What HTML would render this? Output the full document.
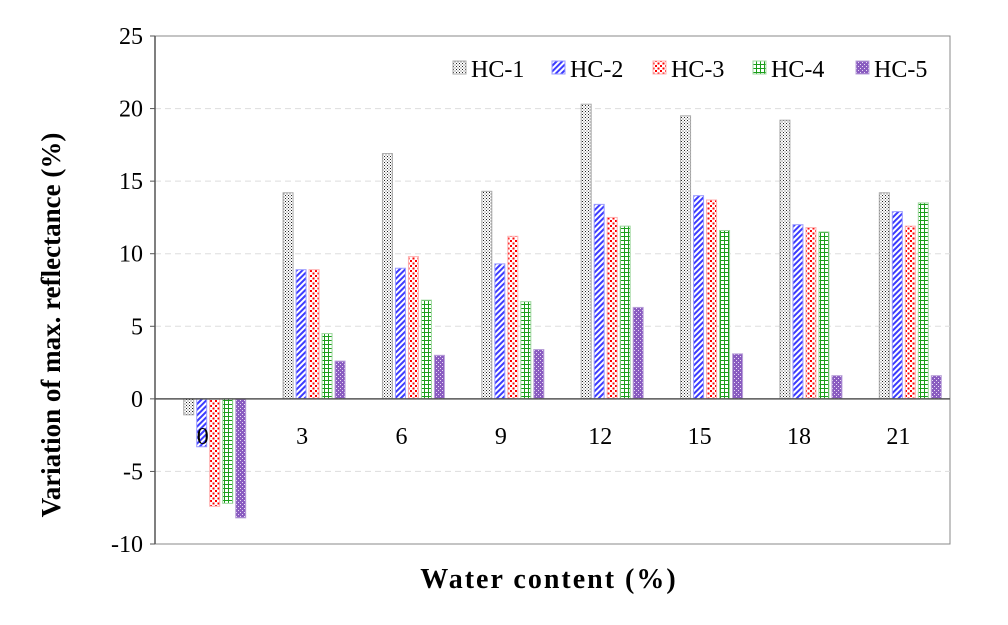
<!DOCTYPE html>
<html><head><meta charset="utf-8"><style>
body{margin:0;background:#fff;}
svg text{font-family:"Liberation Serif",serif;}
</style></head><body>
<svg id="chart" width="1008" height="620">
<defs>
<pattern id="p1" width="3" height="3" patternUnits="userSpaceOnUse"><rect width="3" height="3" fill="#fff"/><rect x="0" y="0" width="1" height="1" fill="#222"/><rect x="1.5" y="1.5" width="1" height="1" fill="#555"/></pattern>
<pattern id="p2" width="4" height="4" patternUnits="userSpaceOnUse" patternTransform="rotate(45)"><rect width="4" height="4" fill="#fff"/><rect width="2" height="4" fill="#3b3bff"/></pattern>
<pattern id="p3" width="5" height="5" patternUnits="userSpaceOnUse"><rect width="5" height="5" fill="#fff"/><rect x="0" y="0" width="2" height="2" fill="#f00"/><rect x="2.5" y="2.5" width="2" height="2" fill="#f00"/></pattern>
<pattern id="p4" width="4" height="4" patternUnits="userSpaceOnUse"><rect width="4" height="4" fill="#fff"/><rect width="1" height="4" fill="#1a9e1a"/><rect width="4" height="1" fill="#1a9e1a"/></pattern>
<pattern id="p5" width="4" height="4" patternUnits="userSpaceOnUse"><rect width="4" height="4" fill="#8a5cc0"/><rect x="0" y="0" width="1" height="1" fill="#e8dcf5"/><rect x="2" y="2" width="1" height="1" fill="#e8dcf5"/></pattern>
</defs>
<g id="plot"></g>
</svg>
<script>
const categories=["0","3","6","9","12","15","18","21"];
const seriesNames=["HC-1","HC-2","HC-3","HC-4","HC-5"];
const hc1=[-1.1,14.2,16.9,14.3,20.3,19.5,19.2,14.2];
const hc2=[-3.3,8.9,9.0,9.3,13.4,14.0,12.0,12.9];
const hc3=[-7.4,8.9,9.8,11.2,12.5,13.7,11.8,11.9];
const hc4=[-7.2,4.5,6.8,6.7,11.9,11.6,11.5,13.5];
const hc5=[-8.2,2.6,3.0,3.4,6.3,3.1,1.6,1.6];
const yTicks=[-10,-5,0,5,10,15,20,25];
const series=[hc1,hc2,hc3,hc4,hc5];
const fills=["url(#p1)","url(#p2)","url(#p3)","url(#p4)","url(#p5)"];
const strokes=["#aaa","#9a9aff","#ffb0b0","#9fd89f","#b9a0d8"];
const NS="http://www.w3.org/2000/svg";
const L=155,R=950,T=36,B=544,yMin=-10,yMax=25;
const y=v=>T+(yMax-v)/(yMax-yMin)*(B-T);
const band=(R-L)/categories.length;
const xc=i=>L+band*(i+0.5);
const g=document.getElementById('plot');
function mk(tag,a){const e=document.createElementNS(NS,tag);for(const k in a)e.setAttribute(k,a[k]);g.appendChild(e);return e;}
let e=mk('rect',{x:L,y:T,width:R-L,height:B-T,fill:'none',stroke:'#888','stroke-width':1});


yTicks.forEach(t=>{
  if(t!==0&&t!==yMin&&t!==yMax){const l=mk('line',{x1:L,x2:R,y1:y(t),y2:y(t),stroke:'#ddd','stroke-dasharray':'6,4'});
  
  }
  const tx=mk('text',{x:L-12,y:y(t)+8,'text-anchor':'end','font-size':24});tx.textContent=t;
  
  
  const tk=mk('line',{x1:L-5,x2:L,y1:y(t),y2:y(t),stroke:'#555'});
  
  
});
e=mk('line',{x1:L,x2:L,y1:T,y2:B,stroke:'#555','stroke-width':1.5});


const bw=10,gap=13;
series.forEach((s,si)=>{
  s.forEach((v,i)=>{
    const x=xc(i)+10+(si-2)*gap-bw/2;
    const r=mk('rect',{x:x,y:Math.min(y(v),y(0)),width:bw,height:Math.abs(y(v)-y(0)),fill:fills[si],stroke:strokes[si],'stroke-width':1});
    
    
  });
});
e=mk('line',{x1:L,x2:R,y1:y(0),y2:y(0),stroke:'#555','stroke-width':1.5});


categories.forEach((c,i)=>{
  const t=mk('text',{x:xc(i)-2,y:y(0)+45,'text-anchor':'middle','font-size':24});t.textContent=c;
  
  
});
const lx=[453,552,653,753,856];
seriesNames.forEach((n,si)=>{
  const r=mk('rect',{x:lx[si],y:61,width:13,height:13,fill:fills[si],stroke:strokes[si]});
  
  
  const t=mk('text',{x:lx[si]+18,y:77,'font-size':24});t.textContent=n;
  
  
});
e=mk('text',{x:549,y:588,'text-anchor':'middle','font-size':28,'font-weight':'bold','letter-spacing':'2'});e.textContent='Water content (%)';


e=mk('text',{x:0,y:0,'text-anchor':'middle','font-size':27,'font-weight':'bold',transform:'translate(60,325) rotate(-90)'});e.textContent='Variation of max. reflectance (%)';


</script>
</body></html>
